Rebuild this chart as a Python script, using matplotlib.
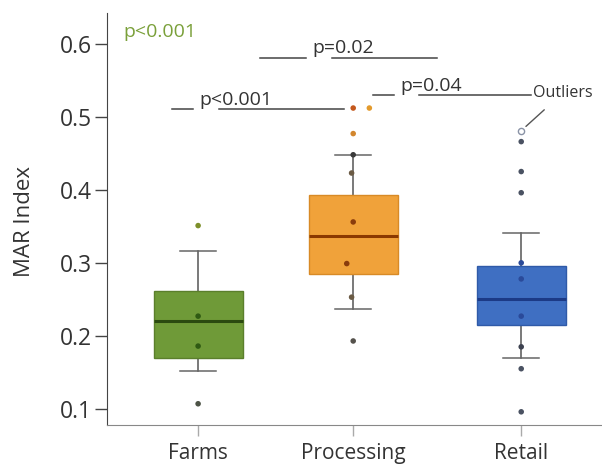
import matplotlib
matplotlib.use("Agg")
import matplotlib.pyplot as plt

# ---- data ----
groups = ["Farms", "Processing", "Retail"]
positions = [0, 0.96, 2]

q1 = [0.170, 0.285, 0.215]
median = [0.221, 0.337, 0.251]
q3 = [0.262, 0.393, 0.296]
whisker_lo = [0.152, 0.237, 0.170]
whisker_hi = [0.316, 0.448, 0.341]

farms_pts = [0.351, 0.227, 0.186, 0.107]
processing_pts = [0.512, 0.512, 0.477, 0.448, 0.423, 0.356, 0.299, 0.253, 0.193]
retail_pts = [0.466, 0.425, 0.396, 0.300, 0.278, 0.227, 0.185, 0.155, 0.096]
retail_outlier = 0.481

# small horizontal offsets of the dots (jitter), in category units
farms_dx = [0.0, 0.0, 0.0, 0.0]
processing_dx = [0.0, 0.10, 0.0, 0.0, -0.01, 0.0, -0.04, -0.01, 0.0]
retail_dx = [0.0] * 9

farms_col = ["#7d8f2a", "#2f5a12", "#2f5a12", "#4d5346"]
processing_col = ["#c4581c", "#e39a2c", "#d2862e", "#3a3a3a", "#6b5b45",
                  "#8a3c0c", "#8a3c0c", "#6b5b45", "#55524c"]
retail_col = ["#4a5262", "#4a5262", "#4a5262", "#2a4a9a", "#2a4a9a",
              "#2a4a9a", "#3d4250", "#4a5262", "#4a5262"]

box_face = ["#6f9a38", "#f0a23a", "#3f6fc2"]
box_edge = ["#5b7f2c", "#d88a26", "#2f5aa8"]
median_col = ["#2b4a10", "#8a3800", "#1c3a86"]

# significance brackets: (x_start, x_end, y, label, text_x)
brackets = [
    (-0.16, 0.90, 0.510, "p<0.001", 0.01),
    (0.38, 1.48, 0.581, "p=0.02", 0.71),
    (1.08, 2.06, 0.530, "p=0.04", 1.25),
]

plt.rcParams["font.family"] = ["Open Sans", "DejaVu Sans"]

fig = plt.figure(figsize=(6.02, 4.68), dpi=100)
ax = fig.add_axes([0.178, 0.092, 0.822, 0.880])

stats = []
for i, g in enumerate(groups):
    stats.append(dict(label=g, q1=q1[i], med=median[i], q3=q3[i],
                      whislo=whisker_lo[i], whishi=whisker_hi[i], fliers=[]))

bp = ax.bxp(stats, positions=positions, widths=0.55, patch_artist=True,
            showfliers=False, capwidths=0.22)
for i, box in enumerate(bp["boxes"]):
    box.set_facecolor(box_face[i])
    box.set_edgecolor(box_edge[i])
    box.set_linewidth(1.0)
    box.set_zorder(2)
for i, m in enumerate(bp["medians"]):
    m.set_color(median_col[i])
    m.set_linewidth(2.2)
    m.set_zorder(3)
for w in bp["whiskers"]:
    w.set_color("#555555")
    w.set_linewidth(1.1)
    w.set_zorder(1)
for c in bp["caps"]:
    c.set_color("#666666")
    c.set_linewidth(1.1)

for pos, pts, dx, cols in [(positions[0], farms_pts, farms_dx, farms_col),
                           (positions[1], processing_pts, processing_dx, processing_col),
                           (positions[2], retail_pts, retail_dx, retail_col)]:
    ax.scatter([pos + d for d in dx], pts, s=16, c=cols, zorder=4, linewidths=0)

ax.scatter([positions[2]], [retail_outlier], s=20, facecolors="white",
           edgecolors="#8a93a6", linewidths=1.0, zorder=4)

# bracket lines are broken around the "p" of each label
for x0, x1, y, label, tx in brackets:
    ax.plot([x0, tx - 0.04], [y, y], color="#444444", lw=1.1)
    ax.plot([tx + 0.12, x1], [y, y], color="#444444", lw=1.1)
    ax.text(tx, y + 0.006, label, fontsize=14, color="#333333",
            ha="left", va="baseline")

ax.text(-0.46, 0.616, "p<0.001", fontsize=14, color="#7aa03a",
        ha="left", va="center")

ax.annotate("Outliers", xy=(positions[2] + 0.01, retail_outlier + 0.002),
            xytext=(2.07, 0.532), fontsize=11.5, color="#333333",
            ha="left", va="center",
            arrowprops=dict(arrowstyle="-", color="#555555", lw=1.0,
                            shrinkA=6, shrinkB=3))

ax.set_xlim(-0.563, 2.50)
ax.set_ylim(0.078, 0.642)
ax.set_yticks([0.1, 0.2, 0.3, 0.4, 0.5, 0.6])
ax.set_yticklabels(["0.1", "0.2", "0.3", "0.4", "0.5", "0.6"])
ax.set_xticks(positions)
ax.set_xticklabels(groups)
ax.set_ylabel("MAR Index", fontsize=16, color="#333333")
ax.yaxis.set_label_coords(-0.146, 0.495)

ax.spines["top"].set_visible(False)
ax.spines["right"].set_visible(False)
ax.spines["left"].set_color("#444444")
ax.spines["bottom"].set_color("#888888")
ax.tick_params(axis="y", labelsize=16.5, colors="#444444", length=9, width=1.0,
               labelcolor="#333333", pad=2)
ax.tick_params(axis="x", labelsize=15, colors="#aaaaaa", length=8, width=1.0,
               labelcolor="#333333", pad=5)

fig.savefig("out.png", dpi=100)
